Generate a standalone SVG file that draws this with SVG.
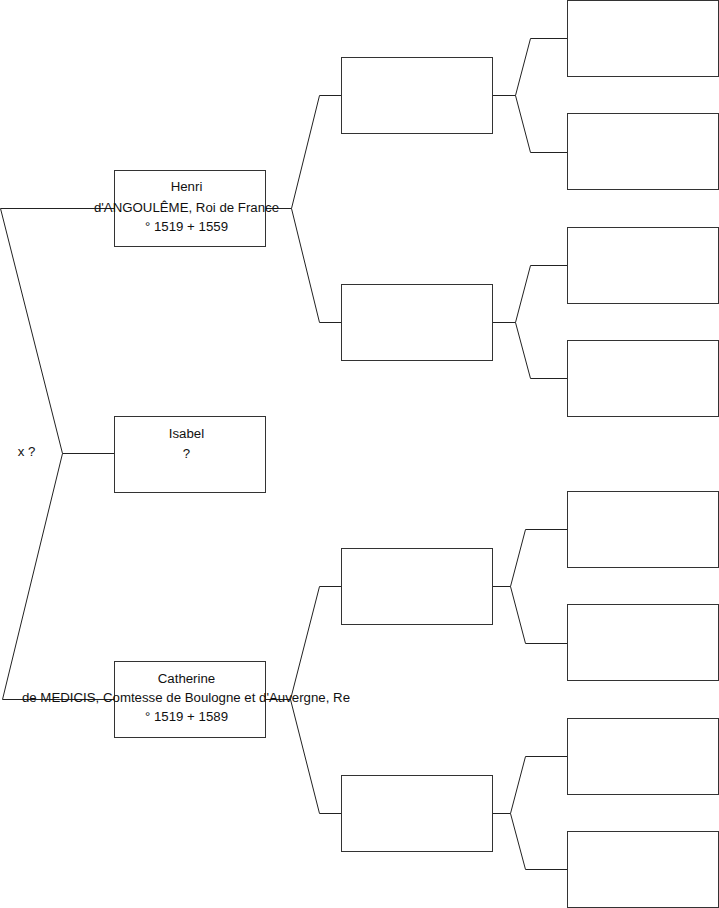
<svg xmlns="http://www.w3.org/2000/svg" width="719" height="908" viewBox="0 0 719 908">
<style>
.box{fill:#fff;stroke:#333;stroke-width:1}
.ln{fill:none;stroke:#222;stroke-width:1}
text{font-family:"Liberation Sans",Arial,sans-serif;font-size:13.25px;fill:#111;text-anchor:middle}
</style>
<rect width="719" height="908" fill="#fff"/>
<g id="connectors">
<path class="ln" d="M114.5,208.5 H0.5 L62.5,453.5 L2.5,699.5 H114.5 M62.5,453.5 H114.5"/>
<path class="ln" d="M265.5,208.5 H291.5 M341.5,95.5 H319.5 L291.5,208.5 L319.5,322.5 H341.5"/>
<path class="ln" d="M265.5,699.5 H290.5 M341.5,586.5 H319.5 L290.5,699.5 L319.5,813.5 H341.5"/>
<path class="ln" d="M492.5,95.5 H515.5 M567.5,38.5 H530.5 L515.5,95.5 L530.5,152.5 H567.5"/>
<path class="ln" d="M492.5,322.5 H515.5 M567.5,265.5 H530.5 L515.5,322.5 L530.5,378.5 H567.5"/>
<path class="ln" d="M492.5,586.5 H510.5 M567.5,529.5 H525.5 L510.5,586.5 L525.5,643.5 H567.5"/>
<path class="ln" d="M492.5,813.5 H510.5 M567.5,756.5 H525.5 L510.5,813.5 L525.5,869.5 H567.5"/>
</g>
<text x="26.5" y="456">x ?</text>
<g id="henri"><rect class="box" x="114.5" y="170.5" width="151" height="76"/><text x="186.5" y="191">Henri</text><text x="186.5" y="212">d'ANGOULÊME, Roi de France</text><text x="186.5" y="230.5">° 1519 + 1559</text></g>
<g id="isabel"><rect class="box" x="114.5" y="416.5" width="151" height="76"/><text x="186.5" y="438">Isabel</text><text x="186.5" y="458">?</text></g>
<g id="catherine"><rect class="box" x="114.5" y="661.5" width="151" height="76"/><text x="186.5" y="682.5">Catherine</text><text x="186" y="701.5">de MEDICIS, Comtesse de Boulogne et d'Auvergne, Re</text><text x="186.5" y="720.5">° 1519 + 1589</text></g>
<g id="f1"><rect class="box" x="341.5" y="57.5" width="151" height="76"/></g>
<g id="m1"><rect class="box" x="341.5" y="284.5" width="151" height="76"/></g>
<g id="f2"><rect class="box" x="341.5" y="548.5" width="151" height="76"/></g>
<g id="m2"><rect class="box" x="341.5" y="775.5" width="151" height="76"/></g>
<g id="ff1"><rect class="box" x="567.5" y="0.5" width="151" height="76"/></g>
<g id="fm1"><rect class="box" x="567.5" y="113.5" width="151" height="76"/></g>
<g id="mf1"><rect class="box" x="567.5" y="227.5" width="151" height="76"/></g>
<g id="mm1"><rect class="box" x="567.5" y="340.5" width="151" height="76"/></g>
<g id="ff2"><rect class="box" x="567.5" y="491.5" width="151" height="76"/></g>
<g id="fm2"><rect class="box" x="567.5" y="604.5" width="151" height="76"/></g>
<g id="mf2"><rect class="box" x="567.5" y="718.5" width="151" height="76"/></g>
<g id="mm2"><rect class="box" x="567.5" y="831.5" width="151" height="76"/></g>
</svg>
